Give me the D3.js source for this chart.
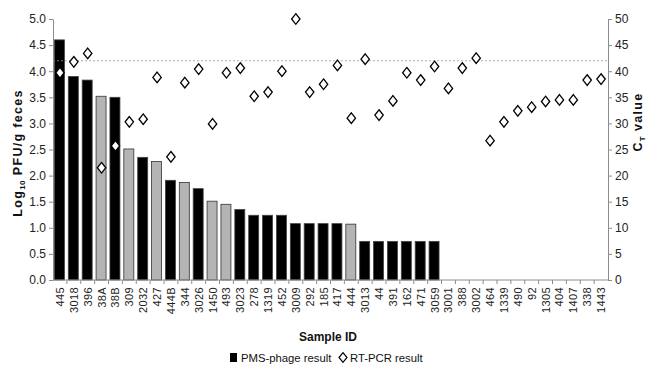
<!DOCTYPE html>
<html>
<head>
<meta charset="utf-8">
<script src="https://cdn.jsdelivr.net/npm/d3@7"></script>
<style>
  body { margin: 0; background: #fff; }
  svg { font-family: "Liberation Sans", Arial, sans-serif; }
</style>
</head>
<body>
<div id="chart"></div>
<script>
// sample IDs in plotted order
const sampleIds = ['445', '3018', '396', '38A', '38B', '309', '2032', '427', '444B', '344',
  '3026', '1450', '493', '3023', '278', '1319', '452', '3009', '292', '185',
  '417', '444', '3013', '44', '391', '162', '471', '3059', '3001', '388',
  '3002', '464', '1339', '490', '92', '1305', '404', '1407', '338', '1443'];

// log10 PFU/g feces (null = no bar)
const phageValues = [4.6, 3.9, 3.83, 3.52, 3.5, 2.51, 2.35, 2.27, 1.91, 1.87,
  1.75, 1.51, 1.45, 1.35, 1.24, 1.24, 1.24, 1.08, 1.08, 1.08,
  1.08, 1.07, 0.74, 0.74, 0.74, 0.74, 0.74, 0.74, null, null,
  null, null, null, null, null, null, null, null, null, null];

// samples drawn with grey bars
const greySamples = ['38A', '309', '427', '344', '1450', '493', '444'];

// RT-PCR Ct values
const ctValues = [39.7, 41.8, 43.4, 21.5, 25.7, 30.3, 30.8, 38.8, 23.6, 37.8,
  40.4, 29.9, 39.7, 40.6, 35.2, 36.0, 40.0, 50.0, 36.0, 37.5,
  41.1, 31.0, 42.3, 31.6, 34.3, 39.7, 38.3, 40.9, 36.7, 40.6,
  42.5, 26.7, 30.3, 32.4, 33.1, 34.2, 34.5, 34.5, 38.3, 38.5];

const leftTicks = [0, 0.5, 1, 1.5, 2, 2.5, 3, 3.5, 4, 4.5, 5];
const rightTicks = [0, 5, 10, 15, 20, 25, 30, 35, 40, 45, 50];
const cutoffCt = 42;

const width = 649, height = 371;
const margin = { top: 19, right: 41, bottom: 91, left: 53 };
const plotW = width - margin.left - margin.right;
const plotH = height - margin.top - margin.bottom;
const axisColor = '#8c8c8c';

const svg = d3.select('#chart').append('svg')
  .attr('width', width)
  .attr('height', height);

const g = svg.append('g')
  .attr('transform', 'translate(' + margin.left + ',' + margin.top + ')');

const x = d3.scaleBand().domain(sampleIds).range([0, plotW]).paddingInner(0).paddingOuter(0);
const yLeft = d3.scaleLinear().domain([0, 5]).range([plotH, 0]);
const yRight = d3.scaleLinear().domain([0, 50]).range([plotH, 0]);

const barW = x.bandwidth() * 0.72;

// bars
const barData = sampleIds.map((id, i) => ({ id: id, v: phageValues[i] })).filter(d => d.v != null);
g.selectAll('rect.bar')
  .data(barData)
  .join('rect')
  .attr('class', 'bar')
  .attr('x', d => x(d.id) + (x.bandwidth() - barW) / 2 - 0.5)
  .attr('y', d => yLeft(d.v))
  .attr('width', barW)
  .attr('height', d => plotH - yLeft(d.v))
  .attr('fill', d => greySamples.includes(d.id) ? '#b4b4b4' : '#000')
  .attr('stroke', d => greySamples.includes(d.id) ? '#333' : '#444')
  .attr('stroke-width', 0.8);

// cutoff line
g.append('line')
  .attr('x1', 0).attr('x2', plotW)
  .attr('y1', yRight(cutoffCt)).attr('y2', yRight(cutoffCt))
  .attr('stroke', '#999')
  .attr('stroke-width', 0.8)
  .attr('stroke-dasharray', '2,2');

// diamonds
function diamond(hw, hh) {
  return 'M0,' + (-hh) + 'L' + hw + ',0L0,' + hh + 'L' + (-hw) + ',0Z';
}
g.selectAll('path.ct')
  .data(sampleIds.map((id, i) => ({ id: id, v: ctValues[i] })))
  .join('path')
  .attr('class', 'ct')
  .attr('transform', d => 'translate(' + (x(d.id) + x.bandwidth() / 2) + ',' + yRight(d.v) + ')')
  .attr('d', diamond(4.2, 5.3))
  .attr('fill', '#fff')
  .attr('stroke', '#000')
  .attr('stroke-width', 1.3);

// left axis
const leftAxis = g.append('g')
  .call(d3.axisLeft(yLeft).tickValues(leftTicks).tickFormat(d3.format('.1f')).tickSize(4).tickSizeOuter(0));
leftAxis.select('.domain').attr('stroke', axisColor);
leftAxis.selectAll('.tick line').attr('stroke', axisColor);
leftAxis.selectAll('.tick text').attr('font-size', 12).attr('fill', '#222').attr('font-family', null).attr('x', -7);

// right axis
const rightAxis = g.append('g')
  .attr('transform', 'translate(' + plotW + ',0)')
  .call(d3.axisRight(yRight).tickValues(rightTicks).tickSize(4).tickSizeOuter(0));
rightAxis.select('.domain').attr('stroke', axisColor);
rightAxis.selectAll('.tick line').attr('stroke', axisColor);
rightAxis.selectAll('.tick text').attr('font-size', 12).attr('fill', '#222').attr('font-family', null).attr('x', 7);

// x axis
g.append('line')
  .attr('x1', 0).attr('x2', plotW)
  .attr('y1', plotH).attr('y2', plotH)
  .attr('stroke', axisColor);

g.selectAll('line.xtick')
  .data(sampleIds.slice(1))
  .join('line')
  .attr('class', 'xtick')
  .attr('x1', d => x(d)).attr('x2', d => x(d))
  .attr('y1', plotH).attr('y2', plotH + 4)
  .attr('stroke', axisColor);

g.selectAll('text.xlabel')
  .data(sampleIds)
  .join('text')
  .attr('class', 'xlabel')
  .attr('transform', d => 'translate(' + (x(d) + x.bandwidth() / 2 + 4) + ',' + (plotH + 7) + ') rotate(-90)')
  .attr('text-anchor', 'end')
  .attr('font-size', 11)
  .attr('letter-spacing', 0.4)
  .attr('fill', '#222')
  .text(d => d);

// axis titles
const leftTitle = svg.append('text')
  .attr('transform', 'translate(22,153) rotate(-90)')
  .attr('text-anchor', 'middle')
  .attr('font-size', 12.5)
  .attr('letter-spacing', 1.3)
  .attr('font-weight', 'bold')
  .attr('fill', '#111');
leftTitle.append('tspan').text('Log');
leftTitle.append('tspan').attr('font-size', 8).attr('dy', 3).attr('letter-spacing', 0.5).text('10');
leftTitle.append('tspan').attr('dy', -3).text(' PFU/g feces');

const rightTitle = svg.append('text')
  .attr('transform', 'translate(642,122) rotate(-90)')
  .attr('text-anchor', 'middle')
  .attr('font-size', 12.5)
  .attr('letter-spacing', 1.3)
  .attr('font-weight', 'bold')
  .attr('fill', '#111');
rightTitle.append('tspan').text('C');
rightTitle.append('tspan').attr('font-size', 8).attr('dy', 3).attr('letter-spacing', 0.5).text('T');
rightTitle.append('tspan').attr('dy', -3).text(' value');

svg.append('text')
  .attr('x', 328).attr('y', 341)
  .attr('text-anchor', 'middle')
  .attr('font-size', 12)
  .attr('font-weight', 'bold')
  .attr('fill', '#111')
  .text('Sample ID');

// legend
const legend = svg.append('g').attr('transform', 'translate(0,362)');
legend.append('rect')
  .attr('x', 230).attr('y', -9).attr('width', 7).attr('height', 9)
  .attr('fill', '#000');
legend.append('text')
  .attr('x', 241).attr('y', 0)
  .attr('font-size', 11.3)
  .attr('fill', '#111')
  .text('PMS-phage result');
legend.append('path')
  .attr('transform', 'translate(343,-4.5)')
  .attr('d', diamond(4, 4.8))
  .attr('fill', '#fff')
  .attr('stroke', '#000')
  .attr('stroke-width', 1.2);
legend.append('text')
  .attr('x', 350).attr('y', 0)
  .attr('font-size', 11.3)
  .attr('fill', '#111')
  .text('RT-PCR result');
</script>
</body>
</html>
